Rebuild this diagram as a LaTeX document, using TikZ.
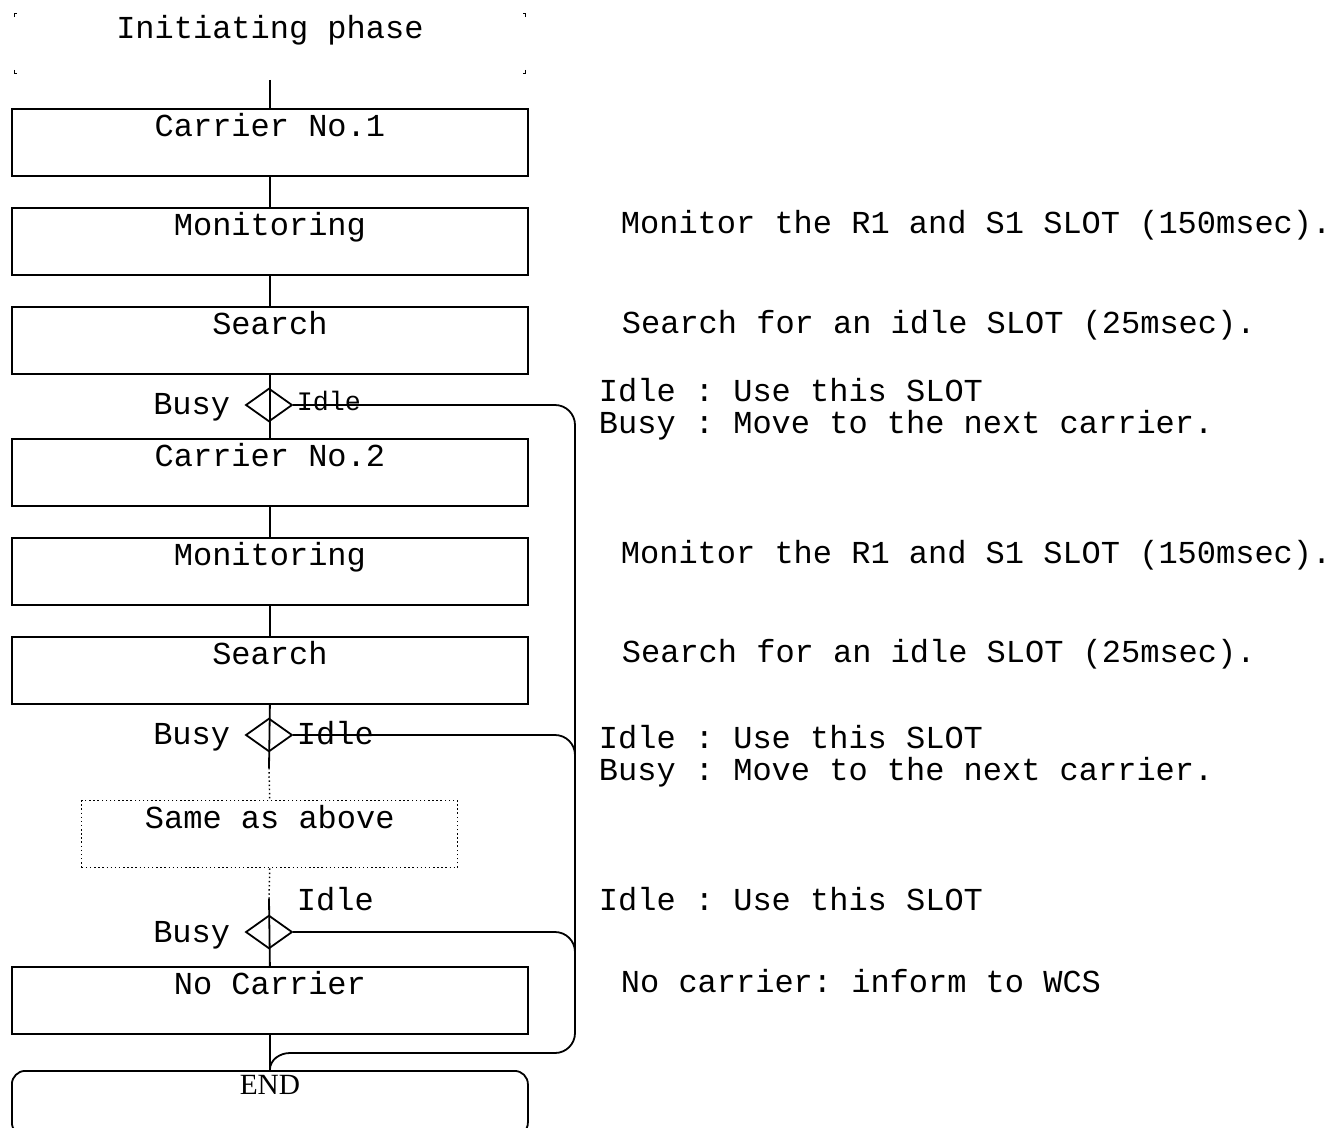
\documentclass[tikz,border=0pt]{standalone}
\usepackage{fontspec}
\setmonofont{Liberation Mono}
\setmainfont{Liberation Serif}
\usetikzlibrary{shapes.geometric}
\begin{document}
\begin{tikzpicture}[x=0.75pt,y=-0.75pt, line width=1.35pt,
  mono/.style={font=\fontsize{24}{28}\selectfont\ttfamily, inner sep=0},
  smallmono/.style={font=\fontsize{20}{24}\selectfont\ttfamily, inner sep=0},
  stepbox/.style={draw, mono, minimum width=387pt, text height=21pt, text depth=29.25pt, inner sep=0, anchor=north west},
  dec/.style={draw, diamond, minimum width=35pt, minimum height=25pt, inner sep=0},
  rc/.style={rounded corners=15pt},
  tick/.style={line width=0.7pt},
  note/.style={mono, anchor=base west},
  lbl/.style={mono, anchor=base east},
]
\useasboundingbox (0,0) rectangle (1332,1128);

% Initiating phase (corner marks only)
\node[mono, minimum width=382.5pt, text height=18.75pt, text depth=25.5pt, anchor=north west] (init) at (14,13) {Initiating phase};
\draw[tick] ([shift={(0,4)}]init.north west) -- (init.north west) -- ([shift={(3,0)}]init.north west);
\draw[tick] ([shift={(0,-4)}]init.south west) -- (init.south west) -- ([shift={(3,0)}]init.south west);
\draw[tick] ([shift={(0,4)}]init.north east) -- (init.north east) -- ([shift={(-3,0)}]init.north east);
\draw[tick] ([shift={(0,-4)}]init.south east) -- (init.south east) -- ([shift={(-3,0)}]init.south east);

% Boxes
\node[stepbox] (c1) at (11,108) {Carrier No.1};
\node[stepbox] (m1) at (11,207) {Monitoring};
\node[stepbox] (s1) at (11,306) {Search};
\node[dec] (d1) at (269,405) {};
\node[stepbox] (c2) at (11,438) {Carrier No.2};
\node[stepbox] (m2) at (11,537) {Monitoring};
\node[stepbox] (s2) at (11,636) {Search};
\node[dec] (d2) at (269,735) {};
\node[stepbox, minimum width=282pt, dotted, line width=1.1pt] (same) at (81,800) {Same as above};
\node[dec] (d3) at (269,932) {};
\node[stepbox] (nc) at (11,966) {No Carrier};
\node[draw, rounded corners=10pt, minimum width=387pt, text height=18pt, text depth=30.75pt, inner sep=0,
      anchor=north west, font=\fontsize{22}{24}\selectfont\rmfamily] (endb) at (11,1070) {END};

% Main vertical connectors
\draw[shorten <=4.5pt] (init.south) -- (c1.north);
\draw (c1.south) -- (m1.north);
\draw (m1.south) -- (s1.north);
\draw (s1.south) -- (c2.north);
\draw (c2.south) -- (m2.north);
\draw (m2.south) -- (s2.north);
\coordinate (s2e) at (269,768);
\draw (s2.south) -- (s2e);
\draw[dotted, line width=1.1pt] (s2e) -- (same.north);
\coordinate (d3t) at (269,899);
\draw[dotted, line width=1.1pt] (same.south) -- (d3t);
\draw (d3t) -- (nc.north);
\draw (nc.south) -- (endb.north);

% Idle branches
\coordinate (t1) at (575,405);
\coordinate (tb) at (575,1053);
\coordinate (jb) at (290,1053);
\draw[rc] (d1.east) -- (t1) -- (tb) -- (jb);
\draw (jb) to[out=180,in=90] (endb.north);
\coordinate (t2) at (575,735);
\coordinate (t2b) at (575,768);
\draw[rc] (d2.east) -- (t2) -- (t2b);
\coordinate (t3) at (575,932);
\coordinate (t3b) at (575,965);
\draw[rc] (d3.east) -- (t3) -- (t3b);

% Decision labels
\node[lbl] (b1) at (231,414) {Busy};
\node[smallmono, anchor=base west] (i1) at (296,410) {Idle};
\node[lbl] (b2) at (231,744) {Busy};
\node[mono, anchor=base west] (i2) at (296,744) {Idle};
\node[lbl] (b3) at (231,942) {Busy};
\node[mono, anchor=base west] (i3) at (296,910) {Idle};

% Notes
\node[note] (r1) at (620,233) {Monitor the R1 and S1 SLOT (150msec).};
\node[note] (r2) at (621,333) {Search for an idle SLOT (25msec).};
\node[note] (r3) at (598,401) {Idle : Use this SLOT};
\node[note] (r4) at (598,433) {Busy : Move to the next carrier.};
\node[note] (r5) at (620,563) {Monitor the R1 and S1 SLOT (150msec).};
\node[note] (r6) at (621,662) {Search for an idle SLOT (25msec).};
\node[note] (r7) at (598,748) {Idle : Use this SLOT};
\node[note] (r8) at (598,780) {Busy : Move to the next carrier.};
\node[note] (r9) at (598,910) {Idle : Use this SLOT};
\node[note] (r10) at (620,992) {No carrier: inform to WCS};
\end{tikzpicture}
\end{document}
